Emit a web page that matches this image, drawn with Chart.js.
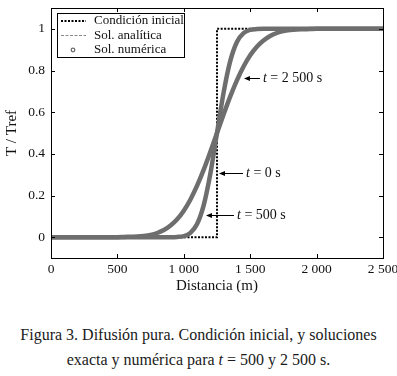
<html>
<head>
<meta charset="utf-8">
<script src="https://cdn.jsdelivr.net/npm/chart.js"></script>
<style>
  body { margin: 0; background: #fff; }
  #wrap { position: relative; width: 397px; height: 376px; }
  #caption {
    position: absolute; left: 0; top: 322px; width: 397px;
    text-align: center; font: 16px "Liberation Serif", serif; line-height: 25px; color: #1a1a1a;
  }
</style>
<script>
// distancia (m)
const distancia = [0, 500, 550, 600, 650, 700, 750, 800, 850, 900, 950, 1000, 1050, 1100, 1150, 1200,
  1250, 1300, 1350, 1400, 1450, 1500, 1550, 1600, 1650, 1700, 1750, 1800, 1850, 1900, 1950, 2000, 2500];
// T/Tref para t = 500 s
const t500 = [0, 0, 0, 0, 0, 0, 0, 0, 0, 0, 0.001, 0.005, 0.021, 0.063, 0.154, 0.305,
  0.5, 0.695, 0.846, 0.937, 0.979, 0.995, 0.999, 1, 1, 1, 1, 1, 1, 1, 1, 1, 1];
// T/Tref para t = 2 500 s
const t2500 = [0, 0, 0.001, 0.002, 0.003, 0.006, 0.011, 0.020, 0.034, 0.056, 0.086, 0.127, 0.181, 0.247, 0.324, 0.410,
  0.5, 0.590, 0.676, 0.753, 0.819, 0.873, 0.914, 0.944, 0.966, 0.980, 0.989, 0.994, 0.997, 0.998, 0.999, 1, 1];
// condición inicial (escalón)
const inicialX = [0, 1250, 1250, 2500];
const inicialY = [0, 0, 1, 1];

const xTicks = [0, 500, 1000, 1500, 2000, 2500];
const xTickLabels = ['0', '500', '1 000', '1 500', '2 000', '2 500'];
const yTicks = [0, 0.2, 0.4, 0.6, 0.8, 1];
const yTickLabels = ['0', '0.2', '0.4', '0.6', '0.8', '1'];

// etiquetas con flecha: texto, punta (x, y) y cola (x)
const notas = [
  { txt: ' = 2 500 s', x1: 1453, x2: 1573, y: 0.764 },
  { txt: ' = 0 s', x1: 1265, x2: 1446, y: 0.309 },
  { txt: ' = 500 s', x1: 1167, x2: 1378, y: 0.106 }
];

const FONT = '"Liberation Serif", serif';
const GRIS = '#6e6e6e';

function pts(xs, ys) {
  return xs.map((x, i) => ({ x: x, y: ys[i] }));
}

const extras = {
  id: 'extras',
  afterDraw(chart) {
    const ctx = chart.ctx;
    const a = chart.chartArea;
    const xs = chart.scales.x, ys = chart.scales.y;
    ctx.save();
    // marco
    ctx.strokeStyle = '#000';
    ctx.lineWidth = 1;
    ctx.strokeRect(Math.round(a.left) + 0.5, Math.round(a.top) + 0.5,
      Math.round(a.right - a.left), Math.round(a.bottom - a.top));
    // marcas hacia dentro
    ctx.beginPath();
    xTicks.forEach(v => {
      const p = Math.round(xs.getPixelForValue(v)) + 0.5;
      ctx.moveTo(p, a.bottom); ctx.lineTo(p, a.bottom - 4);
      ctx.moveTo(p, a.top); ctx.lineTo(p, a.top + 4);
    });
    yTicks.forEach(v => {
      const p = Math.round(ys.getPixelForValue(v)) + 0.5;
      ctx.moveTo(a.left, p); ctx.lineTo(a.left + 4, p);
      ctx.moveTo(a.right, p); ctx.lineTo(a.right - 4, p);
    });
    ctx.stroke();

    // leyenda
    const lx = a.left + 6, ly = a.top + 5, lw = 127, lh = 44;
    ctx.fillStyle = '#fff';
    ctx.fillRect(lx, ly, lw, lh);
    ctx.strokeRect(lx + 0.5, ly + 0.5, lw, lh);
    ctx.font = '13px ' + FONT;
    ctx.textBaseline = 'middle';
    ctx.fillStyle = '#111';
    const rows = ['Condición inicial', 'Sol. analítica', 'Sol. numérica'];
    rows.forEach((r, i) => {
      const yy = ly + 8 + i * 14.5;
      ctx.fillText(r, lx + 37, yy);
      if (i === 0) {
        ctx.setLineDash([2, 1.5]); ctx.lineWidth = 2; ctx.strokeStyle = '#000';
        ctx.beginPath(); ctx.moveTo(lx + 4, yy); ctx.lineTo(lx + 29, yy); ctx.stroke();
      } else if (i === 1) {
        ctx.setLineDash([3, 1.5]); ctx.lineWidth = 1; ctx.strokeStyle = '#888';
        ctx.beginPath(); ctx.moveTo(lx + 4, yy); ctx.lineTo(lx + 29, yy); ctx.stroke();
      } else {
        ctx.setLineDash([]); ctx.lineWidth = 1.3; ctx.strokeStyle = GRIS;
        ctx.beginPath(); ctx.arc(lx + 16, yy, 1.8, 0, Math.PI * 2); ctx.stroke();
      }
    });
    ctx.setLineDash([]);

    // flechas y textos
    notas.forEach(n => {
      const hx = xs.getPixelForValue(n.x1), tx = xs.getPixelForValue(n.x2);
      const yy = Math.round(ys.getPixelForValue(n.y)) + 0.5;
      ctx.strokeStyle = '#000'; ctx.lineWidth = 1;
      ctx.beginPath(); ctx.moveTo(tx, yy); ctx.lineTo(hx + 3, yy); ctx.stroke();
      ctx.fillStyle = '#000';
      ctx.beginPath(); ctx.moveTo(hx, yy); ctx.lineTo(hx + 6, yy - 2.5); ctx.lineTo(hx + 6, yy + 2.5); ctx.closePath(); ctx.fill();
      ctx.fillStyle = '#111';
      ctx.font = 'italic 14px ' + FONT;
      ctx.fillText('t', tx + 3, yy);
      const w = ctx.measureText('t').width;
      ctx.font = '14px ' + FONT;
      ctx.fillText(n.txt, tx + 3 + w, yy);
    });
    ctx.restore();
  }
};

function dibujar() {
  const data = {
    datasets: [
      { label: 'Sol. numérica t=500', data: pts(distancia, t500), borderColor: GRIS, borderWidth: 4.5,
        borderCapStyle: 'round', pointRadius: 0, cubicInterpolationMode: 'monotone', order: 1 },
      { label: 'Sol. numérica t=2500', data: pts(distancia, t2500), borderColor: GRIS, borderWidth: 4.5,
        borderCapStyle: 'round', pointRadius: 0, cubicInterpolationMode: 'monotone', order: 1 },
      { label: 'Sol. analítica t=500', data: pts(distancia, t500), borderColor: '#888', borderWidth: 1,
        borderDash: [3, 2], pointRadius: 0, cubicInterpolationMode: 'monotone', order: 2 },
      { label: 'Sol. analítica t=2500', data: pts(distancia, t2500), borderColor: '#888', borderWidth: 1,
        borderDash: [3, 2], pointRadius: 0, cubicInterpolationMode: 'monotone', order: 2 },
      { label: 'Condición inicial', data: pts(inicialX, inicialY), borderColor: '#000', borderWidth: 2,
        borderDash: [2, 1.5], pointRadius: 0, tension: 0, order: 3 }
    ]
  };

  const config = {
    type: 'line',
    data: data,
    plugins: [extras],
    options: {
      responsive: false,
      animation: false,
      layout: { padding: { top: 8, right: 14, left: 0, bottom: 0 } },
      plugins: { legend: { display: false }, tooltip: { enabled: false } },
      scales: {
        x: {
          type: 'linear', min: 0, max: 2500,
          grid: { display: false, drawTicks: false },
          border: { display: false },
          afterBuildTicks: s => { s.ticks = xTicks.map(v => ({ value: v })); },
          afterFit: s => { s.height = 42; s.paddingLeft = 0; s.paddingRight = 0; },
          ticks: { autoSkip: false, maxRotation: 0, padding: 3, color: '#111',
            font: { family: FONT, size: 13.5 },
            callback: (v, i) => xTickLabels[i] },
          title: { display: true, text: 'Distancia (m)', color: '#111', padding: { top: 1, bottom: 5 },
            font: { family: FONT, size: 15 } }
        },
        y: {
          type: 'linear', min: -0.1, max: 1.1,
          grid: { display: false, drawTicks: false },
          border: { display: false },
          afterBuildTicks: s => { s.ticks = yTicks.map(v => ({ value: v })); },
          afterFit: s => { s.width = 51; s.paddingTop = 0; s.paddingBottom = 0; },
          ticks: { autoSkip: false, padding: 6, color: '#111',
            font: { family: FONT, size: 13.5 },
            callback: (v, i) => yTickLabels[i] },
          title: { display: true, text: 'T / Tref', color: '#111', padding: { top: 3, bottom: 2 },
            font: { family: FONT, size: 15 } }
        }
      }
    }
  };

  new Chart(document.getElementById('myChart'), config);
}
window.addEventListener('load', dibujar);
</script>
</head>
<body>
<div id="wrap">
  <canvas id="myChart" width="397" height="300"></canvas>
  <div id="caption">Figura 3. Difusión pura. Condición inicial, y soluciones<br>exacta y numérica para <i>t</i> = 500 y 2 500 s.</div>
</div>
</body>
</html>
